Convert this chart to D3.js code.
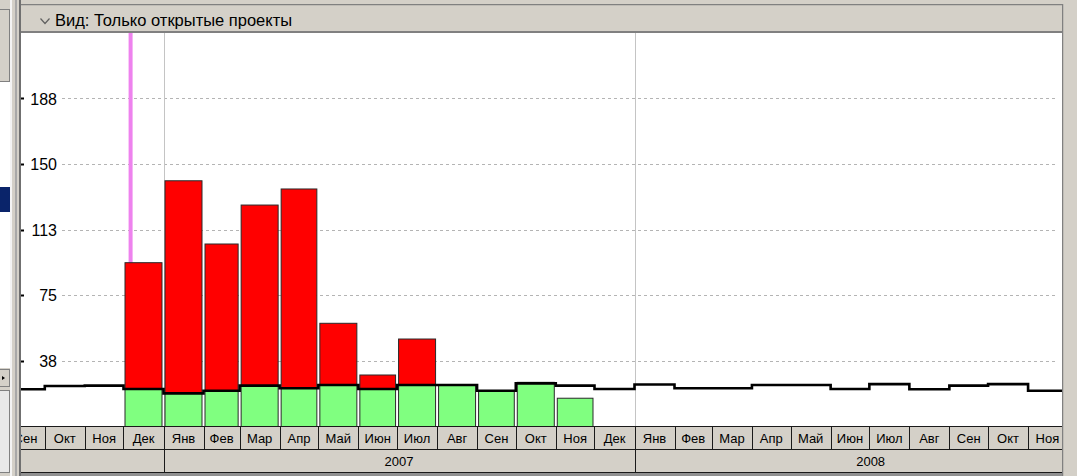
<!DOCTYPE html>
<html>
<head>
<meta charset="utf-8">
<script src="https://cdn.jsdelivr.net/npm/d3@7"></script>
<style>
  html, body { margin: 0; padding: 0; background: #d4d0c8; }
  svg { display: block; font-family: "Liberation Sans", Arial, sans-serif; }
</style>
</head>
<body>
<svg id="chart" width="1077" height="476"></svg>
<script>
// ---------- data ----------
const title = "Вид: Только открытые проекты";
const monthNames = ["Янв","Фев","Мар","Апр","Май","Июн","Июл","Авг","Сен","Окт","Ноя","Дек"];
const yTickValues = [37.5, 75, 112.5, 150, 187.5];
const yMax = 225;

const capacityMonths = ["2006-09","2006-10","2006-11","2006-12","2007-01","2007-02","2007-03","2007-04","2007-05","2007-06","2007-07","2007-08","2007-09","2007-10","2007-11","2007-12","2008-01","2008-02","2008-03","2008-04","2008-05","2008-06","2008-07","2008-08","2008-09","2008-10","2008-11"];
const capacityValues = [21.0, 22.9, 23.1, 21.2, 18.7, 20.2, 23.1, 21.6, 23.5, 21.2, 23.5, 23.5, 20.2, 24.4, 23.1, 21.2, 23.8, 21.6, 21.6, 23.5, 23.5, 21.2, 24.0, 21.0, 23.1, 24.0, 20.2];

const loadMonths = ["2006-12","2007-01","2007-02","2007-03","2007-04","2007-05","2007-06","2007-07","2007-08","2007-09","2007-10","2007-11"];
const loadValues = [93.5, 140.4, 104.2, 126.5, 135.7, 58.8, 29.2, 49.8, 23.5, 20.2, 25.0, 15.9];

const todayMarker = "2006-12-06T12:00:00Z";

// ---------- helpers ----------
const parseMonth = s => { const [y, m] = s.split("-").map(Number); return new Date(Date.UTC(y, m - 1, 1)); };
const nextMonth = d => d3.utcMonth.offset(d, 1);

const svg = d3.select("#chart");
const W = 1077, H = 476;
const plotL = 21, plotR = 1062, plotT = 33, plotB = 426;

const x = d3.scaleUtc()
  .domain([new Date(Date.UTC(2007, 0, 1)), new Date(Date.UTC(2008, 0, 1))])
  .range([163.5, 634.5]);
const y = d3.scaleLinear().domain([0, yMax]).range([plotB, plotT]);

const defs = svg.append("defs");
defs.append("clipPath").attr("id", "plotClip")
  .append("rect").attr("x", plotL).attr("y", plotT).attr("width", plotR - plotL).attr("height", plotB - plotT);
defs.append("clipPath").attr("id", "axisClip")
  .append("rect").attr("x", plotL).attr("y", plotB).attr("width", plotR - plotL).attr("height", 50);

// ---------- chrome ----------
svg.append("rect").attr("x", 0).attr("y", 0).attr("width", W).attr("height", H).attr("fill", "#d4d0c8");
// left panel
const lp = svg.append("g");
lp.append("rect").attr("x", 0).attr("y", 0).attr("width", 11).attr("height", 476).attr("fill", "#d4d0c8");
lp.append("rect").attr("x", -1).attr("y", 9.5).attr("width", 10.5).attr("height", 72).attr("fill", "#d4d0c8").attr("stroke", "#808080");
lp.append("rect").attr("x", 0).attr("y", 82).attr("width", 10).attr("height", 286).attr("fill", "#ffffff");
lp.append("rect").attr("x", 0).attr("y", 187).attr("width", 10).attr("height", 25).attr("fill", "#0a246a");
lp.append("rect").attr("x", -1).attr("y", 369.5).attr("width", 10.5).attr("height", 17).attr("fill", "#d4d0c8").attr("stroke", "#808080");
lp.append("path").attr("d", "M2,376 L5,378 L2,380 Z").attr("fill", "#000");
lp.append("rect").attr("x", -1).attr("y", 390.5).attr("width", 10.5).attr("height", 82).attr("fill", "#e8e8e8").attr("stroke", "#808080");
lp.append("rect").attr("x", 10).attr("y", 0).attr("width", 2).attr("height", 476).attr("fill", "#f4f4f4");
lp.append("rect").attr("x", 15).attr("y", 0).attr("width", 2).attr("height", 476).attr("fill", "#a8a8a8");
lp.append("rect").attr("x", 19).attr("y", 0).attr("width", 2).attr("height", 476).attr("fill", "#707070");

// header bar
svg.append("rect").attr("x", plotL).attr("y", 4).attr("width", plotR - plotL).attr("height", 1.5).attr("fill", "#808080");
svg.append("rect").attr("x", plotL).attr("y", 5.5).attr("width", plotR - plotL).attr("height", 25.5).attr("fill", "#d4d0c8");
svg.append("rect").attr("x", plotL).attr("y", 31).attr("width", plotR - plotL).attr("height", 2).attr("fill", "#808080");
svg.append("path").attr("d", "M40.5,18.5 L45,23.5 L49.5,18.5").attr("fill", "none").attr("stroke", "#606060").attr("stroke-width", 1.2);
svg.append("text").attr("x", 55).attr("y", 25.5).attr("font-size", 16.5).attr("fill", "#000").text(title);

// right edge
svg.append("rect").attr("x", plotR).attr("y", 4).attr("width", 1.5).attr("height", 472).attr("fill", "#808080");
svg.append("rect").attr("x", plotR + 1.5).attr("y", 0).attr("width", W - plotR - 1.5).attr("height", H).attr("fill", "#d4d0c8");

// plot background
svg.append("rect").attr("x", plotL).attr("y", plotT).attr("width", plotR - plotL).attr("height", plotB - plotT).attr("fill", "#ffffff");

// ---------- grid & y axis ----------
const grid = svg.append("g");
grid.selectAll("line").data(yTickValues).join("line")
  .attr("x1", 62).attr("x2", 1058)
  .attr("y1", d => Math.round(y(d)) + 0.5).attr("y2", d => Math.round(y(d)) + 0.5)
  .attr("stroke", "#b4b4b4").attr("stroke-dasharray", "3,3");

const yAxis = d3.axisLeft(y).tickValues(yTickValues).tickSize(0).tickPadding(0).tickFormat(d => String(Math.round(d)));
const yg = svg.append("g").attr("transform", "translate(57,0)").call(yAxis);
yg.select(".domain").remove();
yg.selectAll("text").attr("font-size", 16).attr("font-family", "Liberation Sans, Arial, sans-serif").attr("fill", "#000").attr("dy", "0.35em");
svg.append("g").selectAll("rect").data(yTickValues).join("rect")
  .attr("x", 21).attr("y", d => Math.round(y(d)) - 0.5).attr("width", 3).attr("height", 2).attr("fill", "#000");

// ---------- plot content ----------
const plot = svg.append("g").attr("clip-path", "url(#plotClip)");

// year boundaries
const yearStarts = [new Date(Date.UTC(2007, 0, 1)), new Date(Date.UTC(2008, 0, 1))];
plot.selectAll("line.year").data(yearStarts).join("line").attr("class", "year")
  .attr("x1", d => Math.round(x(d)) + 0.5).attr("x2", d => Math.round(x(d)) + 0.5)
  .attr("y1", plotT).attr("y2", plotB).attr("stroke", "#c4c4c4");

// today marker
const td = new Date(todayMarker);
plot.append("line").attr("x1", x(td)).attr("x2", x(td)).attr("y1", plotT).attr("y2", plotB)
  .attr("stroke", "#ee82ee").attr("stroke-width", 4);

// bars
const bars = loadMonths.map((m, i) => {
  const d0 = parseMonth(m);
  const ci = capacityMonths.indexOf(m);
  const cap = capacityValues[ci];
  const v = loadValues[i];
  return { d0, d1: nextMonth(d0), green: Math.min(v, cap), red: v > cap ? v - cap : 0, cap };
});
const barX = d => x(d.d0) + 1.5;
const barW = d => x(d.d1) - x(d.d0) - 3;

plot.selectAll("rect.green").data(bars).join("rect").attr("class", "green")
  .attr("x", barX).attr("width", barW)
  .attr("y", d => y(d.green)).attr("height", d => y(0) - y(d.green) + 1)
  .attr("fill", "#80ff80").attr("stroke", "#2a2a2a").attr("stroke-width", 1);
plot.selectAll("rect.red").data(bars.filter(d => d.red > 0)).join("rect").attr("class", "red")
  .attr("x", barX).attr("width", barW)
  .attr("y", d => y(d.green + d.red)).attr("height", d => y(d.green) - y(d.green + d.red))
  .attr("fill", "#ff0000").attr("stroke", "#2a2a2a").attr("stroke-width", 1);

// capacity step line
const capPts = capacityMonths.map((m, i) => ({ d: parseMonth(m), v: capacityValues[i] }));
capPts.push({ d: nextMonth(parseMonth(capacityMonths[capacityMonths.length - 1])), v: capacityValues[capacityValues.length - 1] });
const line = d3.line().x(d => x(d.d)).y(d => y(d.v)).curve(d3.curveStepAfter);
plot.append("path").datum(capPts).attr("d", line)
  .attr("fill", "none").attr("stroke", "#000").attr("stroke-width", 2.6);

// ---------- time axis ----------
const axis = svg.append("g").attr("clip-path", "url(#axisClip)");
const rowT = 426, rowM = 449, rowB = 472;
const months = d3.utcMonths(new Date(Date.UTC(2006, 7, 1)), new Date(Date.UTC(2009, 0, 1)));
const midMonth = d => (x(d) + x(nextMonth(d))) / 2;
axis.selectAll("rect.m").data(months).join("rect").attr("class", "m")
  .attr("x", d => Math.round(x(d)) + 0.5).attr("width", d => Math.round(x(nextMonth(d))) - Math.round(x(d)))
  .attr("y", rowT + 0.5).attr("height", rowM - rowT)
  .attr("fill", "#d4d0c8").attr("stroke", "#1a1a1a");
axis.selectAll("text.m").data(months.filter(d => midMonth(d) > plotL && midMonth(d) < plotR - 10)).join("text").attr("class", "m")
  .attr("x", midMonth).attr("y", 442.5)
  .attr("text-anchor", "middle").attr("font-size", 13).attr("fill", "#000")
  .text(d => monthNames[d.getUTCMonth()]);

const years = d3.utcYears(new Date(Date.UTC(2006, 0, 1)), new Date(Date.UTC(2009, 0, 1)));
const midYear = d => (x(d) + x(d3.utcYear.offset(d, 1))) / 2;
axis.selectAll("rect.y").data(years).join("rect").attr("class", "y")
  .attr("x", d => Math.round(x(d)) + 0.5).attr("width", d => Math.round(x(d3.utcYear.offset(d, 1))) - Math.round(x(d)))
  .attr("y", rowM + 0.5).attr("height", rowB - rowM)
  .attr("fill", "#d4d0c8").attr("stroke", "#1a1a1a");
axis.selectAll("text.y").data(years.filter(d => midYear(d) > plotL && midYear(d) < plotR)).join("text").attr("class", "y")
  .attr("x", midYear).attr("y", 466)
  .attr("text-anchor", "middle").attr("font-size", 13).attr("fill", "#000")
  .text(d => d.getUTCFullYear());

svg.append("rect").attr("x", plotL).attr("y", rowB + 1).attr("width", plotR - plotL).attr("height", 3).attr("fill", "#909090");
</script>
</body>
</html>
